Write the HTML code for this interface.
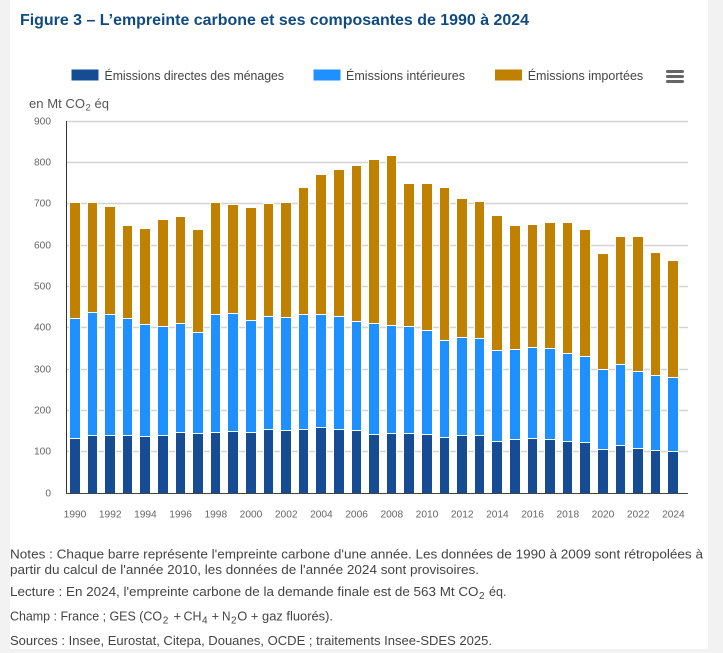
<!DOCTYPE html>
<html lang="fr">
<head>
<meta charset="utf-8">
<title>Figure 3 – L’empreinte carbone et ses composantes de 1990 à 2024</title>
<style>
html,body{margin:0;padding:0;background:#f2f2f2;width:723px;height:653px;overflow:hidden}
svg{display:block;position:absolute;left:0;top:0}
text{font-family:"Liberation Sans",sans-serif}
.tick{font-size:10.2px;fill:#666}
.leg{font-size:12.6px;fill:#444}
.note{font-size:13px;fill:#444}
.sub{font-size:10px;fill:#444}
</style>
</head>
<body>
<svg id="chart" width="723" height="653" viewBox="0 0 723 653" xmlns="http://www.w3.org/2000/svg">
  <rect x="10" y="0" width="698" height="649" fill="#ffffff"/>
  <text x="20" y="25" font-size="15.5" font-weight="700" fill="#0f4a80" textLength="509" lengthAdjust="spacingAndGlyphs">Figure 3 – L’empreinte carbone et ses composantes de 1990 à 2024</text>

  <g>
    <rect x="71.5" y="69.5" width="27" height="11" fill="#154c94"/>
    <text class="leg" x="104.5" y="80" textLength="179.5" lengthAdjust="spacingAndGlyphs">Émissions directes des ménages</text>
  </g>
  <g>
    <rect x="313.5" y="69.5" width="27" height="11" fill="#1e90ff"/>
    <text class="leg" x="346" y="80" textLength="119" lengthAdjust="spacingAndGlyphs">Émissions intérieures</text>
  </g>
  <g>
    <rect x="495" y="69.5" width="27" height="11" fill="#c08000"/>
    <text class="leg" x="527.7" y="80" textLength="115.5" lengthAdjust="spacingAndGlyphs">Émissions importées</text>
  </g>
  <g stroke="#666" stroke-width="3" stroke-linecap="round">
    <line x1="667.5" x2="682.5" y1="71.5" y2="71.5"/>
    <line x1="667.5" x2="682.5" y1="76.5" y2="76.5"/>
    <line x1="667.5" x2="682.5" y1="81.5" y2="81.5"/>
  </g>

  <g fill="#555" font-size="13">
    <text x="29" y="108" textLength="56" lengthAdjust="spacingAndGlyphs">en Mt CO</text>
    <text x="85.5" y="110.5" font-size="9.5">2</text>
    <text x="94.5" y="108" textLength="14.5" lengthAdjust="spacingAndGlyphs">éq</text>
  </g>

  <g id="grid"></g>
  <g id="bars"></g>
  <g id="axes"></g>
  <g id="labels"></g>

  <g>
    <text class="note" x="10" y="558.5" textLength="693" lengthAdjust="spacingAndGlyphs">Notes : Chaque barre représente l'empreinte carbone d'une année. Les données de 1990 à 2009 sont rétropolées à</text>
    <text class="note" x="10" y="574" textLength="469" lengthAdjust="spacingAndGlyphs">partir du calcul de l'année 2010, les données de l'année 2024 sont provisoires.</text>
  </g>
  <g>
    <text class="note" x="10" y="596" textLength="468.5" lengthAdjust="spacingAndGlyphs">Lecture : En 2024, l'empreinte carbone de la demande finale est de 563 Mt CO</text>
    <text class="sub" x="479" y="599">2</text>
    <text class="note" x="489" y="596" textLength="17.5" lengthAdjust="spacingAndGlyphs">éq.</text>
  </g>
  <g>
    <text class="note" x="10" y="620.5" textLength="152" lengthAdjust="spacingAndGlyphs">Champ : France ; GES (CO</text>
    <text class="sub" x="162.8" y="623.5">2</text>
    <text class="note" x="173.5" y="620.5">+</text>
    <text class="note" x="183.5" y="620.5" textLength="18" lengthAdjust="spacingAndGlyphs">CH</text>
    <text class="sub" x="202" y="623.5">4</text>
    <text class="note" x="211.5" y="620.5">+</text>
    <text class="note" x="222" y="620.5" textLength="8.5" lengthAdjust="spacingAndGlyphs">N</text>
    <text class="sub" x="231" y="623.5">2</text>
    <text class="note" x="237.3" y="620.5" textLength="95.7" lengthAdjust="spacingAndGlyphs">O + gaz fluorés).</text>
  </g>
  <text class="note" x="10" y="645" textLength="482" lengthAdjust="spacingAndGlyphs">Sources : Insee, Eurostat, Citepa, Douanes, OCDE ; traitements Insee-SDES 2025.</text>
</svg>
<script>
const years = [1990,1991,1992,1993,1994,1995,1996,1997,1998,1999,2000,2001,2002,2003,2004,2005,2006,2007,2008,2009,2010,2011,2012,2013,2014,2015,2016,2017,2018,2019,2020,2021,2022,2023,2024];
const directEmissions = [130,139,139,139,135,137,144,142,144,147,144,152,150,152,157,152,150,140,142,142,140,133,137,137,123,128,130,128,123,120,104,113,106,101,99];
const interiorEmissions = [290,296,291,281,271,264,266,244,286,285,271,273,273,278,273,273,263,270,263,260,252,235,237,235,221,218,221,221,214,209,194,197,187,183,180];
const importedEmissions = [282,267,262,226,232,259,258,250,272,265,274,274,279,308,340,357,377,395,410,346,356,370,338,332,326,300,297,304,316,307,280,310,327,297,283];
const yTicks = [0,100,200,300,400,500,600,700,800,900];
const xTickLabels = [1990,1992,1994,1996,1998,2000,2002,2004,2006,2008,2010,2012,2014,2016,2018,2020,2022,2024];

const NS = 'http://www.w3.org/2000/svg';
const plotLeft = 66.2, plotRight = 688, categoryRight = 682.2, plotBottom = 493, plotTop = 121, yMax = 900;
const band = (categoryRight - plotLeft) / years.length;
const yScale = v => plotBottom - v / yMax * (plotBottom - plotTop);
const xCenter = year => plotLeft + band * (years.indexOf(year) + 0.5);

const gridG = document.getElementById('grid');


const barsG = document.getElementById('bars');


const axesG = document.getElementById('axes');


const labelsG = document.getElementById('labels');



yTicks.forEach(t => {
  const y = Math.floor(yScale(t)) + 0.5;
  if (t > 0) {
    const line = document.createElementNS(NS, 'line');
    line.setAttribute('x1', plotLeft);
    line.setAttribute('x2', plotRight);
    line.setAttribute('y1', y);
    line.setAttribute('y2', y);
    line.setAttribute('stroke', '#d4d4d4');
    line.setAttribute('stroke-width', '1.4');
    
    
    gridG.appendChild(line);
  }
  const label = document.createElementNS(NS, 'text');
  label.setAttribute('class', 'tick');
  label.setAttribute('x', 51);
  label.setAttribute('y', y + 3);
  label.setAttribute('text-anchor', 'end');
  
  
  label.textContent = t;
  labelsG.appendChild(label);
});

function drawSegment(x0, x1, lower, upper, color, name) {
  const top = Math.round(yScale(upper));
  const bottom = Math.round(yScale(lower));
  const halo = document.createElementNS(NS, 'rect');
  halo.setAttribute('x', x0 - 1);
  halo.setAttribute('y', top - 1);
  halo.setAttribute('width', x1 - x0 + 2);
  halo.setAttribute('height', bottom - top + 1);
  halo.setAttribute('fill', '#ffffff');
  barsG.appendChild(halo);
  const seg = document.createElementNS(NS, 'rect');
  seg.setAttribute('x', x0);
  seg.setAttribute('y', top);
  seg.setAttribute('width', x1 - x0);
  seg.setAttribute('height', Math.max(bottom - top, 0));
  seg.setAttribute('fill', color);
  
  
  barsG.appendChild(seg);
}

years.forEach((year, i) => {
  const c = xCenter(year);
  const x0 = Math.round(c - 5);
  const x1 = Math.round(c + 4.6);
  const a = directEmissions[i];
  const b = a + interiorEmissions[i];
  const d = b + importedEmissions[i];
  drawSegment(x0, x1, b, d, '#c08000', 'bar-imported-' + year);
  drawSegment(x0, x1, a, b, '#1e90ff', 'bar-interior-' + year);
  drawSegment(x0, x1, 0, a, '#154c94', 'bar-direct-' + year);
});

xTickLabels.forEach(year => {
  const label = document.createElementNS(NS, 'text');
  label.setAttribute('class', 'tick');
  label.setAttribute('x', xCenter(year));
  label.setAttribute('y', 517.5);
  label.setAttribute('text-anchor', 'middle');
  
  
  label.textContent = year;
  labelsG.appendChild(label);
});

const yAxis = document.createElementNS(NS, 'line');
yAxis.setAttribute('x1', 66.5);
yAxis.setAttribute('x2', 66.5);
yAxis.setAttribute('y1', plotTop);
yAxis.setAttribute('y2', plotBottom + 1);
yAxis.setAttribute('stroke', '#333');
yAxis.setAttribute('stroke-width', '1');


axesG.appendChild(yAxis);

const xAxis = document.createElementNS(NS, 'line');
xAxis.setAttribute('x1', 66);
xAxis.setAttribute('x2', plotRight);
xAxis.setAttribute('y1', plotBottom + 0.5);
xAxis.setAttribute('y2', plotBottom + 0.5);
xAxis.setAttribute('stroke', '#444');
xAxis.setAttribute('stroke-width', '1');


axesG.appendChild(xAxis);
</script>
</body>
</html>
